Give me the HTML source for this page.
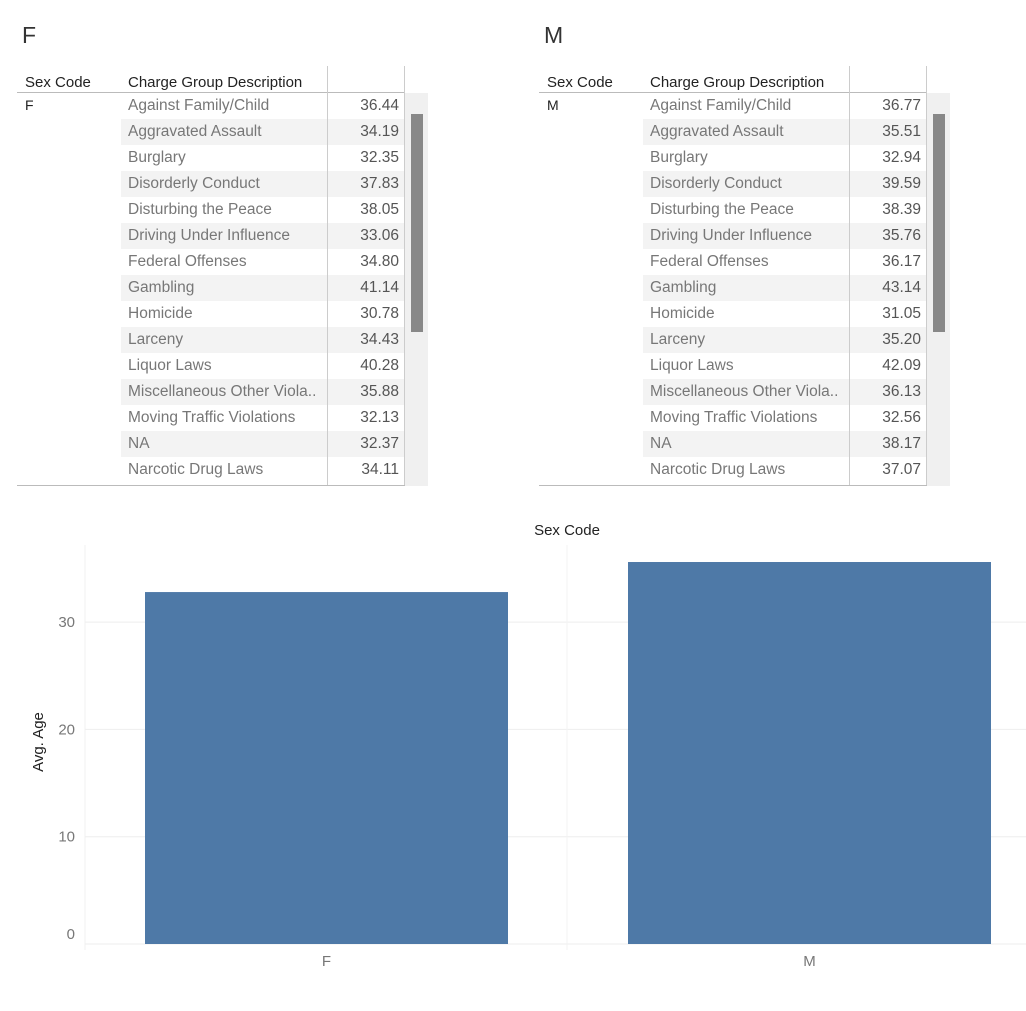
<!DOCTYPE html>
<html><head><meta charset="utf-8"><style>
body{margin:0;width:1026px;height:1011px;background:#fff;font-family:"Liberation Sans",sans-serif;position:relative;overflow:hidden}
.t{position:absolute;font-size:23px;color:#333}
.tbl{position:absolute;top:66px;width:412px;height:420px}
.hdr{position:absolute;top:8px;font-size:15px;color:#222}
.row{position:absolute;height:26px;font-size:15.5px;color:#777;line-height:26px}
.val{position:absolute;text-align:right;width:70px;left:312px;color:#555}
.stripe{position:absolute;left:104px;width:284px;height:26px;background:#f3f3f3}
</style></head><body>
<div class="t" style="left:22px;top:22px">F</div>
<div class="t" style="left:544px;top:22px">M</div>
<div id="tF" class="tbl" style="left:17px"></div>
<div id="tM" class="tbl" style="left:539px"></div>
<svg id="chart" width="1026" height="1011" style="position:absolute;left:0;top:0;pointer-events:none"></svg>
<script>
const charges=["Against Family/Child","Aggravated Assault","Burglary","Disorderly Conduct","Disturbing the Peace","Driving Under Influence","Federal Offenses","Gambling","Homicide","Larceny","Liquor Laws","Miscellaneous Other Viola..","Moving Traffic Violations","NA","Narcotic Drug Laws"];
const valsF=[36.44,34.19,32.35,37.83,38.05,33.06,34.80,41.14,30.78,34.43,40.28,35.88,32.13,32.37,34.11];
const valsM=[36.77,35.51,32.94,39.59,38.39,35.76,36.17,43.14,31.05,35.20,42.09,36.13,32.56,38.17,37.07];
const sexCats=["F","M"];
const avgAge=[32.8,35.6];
const yTicks=[0,10,20,30];
function buildTable(id,code,vals){
  const t=document.getElementById(id);
  let h='<div class="hdr" style="left:8px">Sex Code</div>'+
  '<div class="hdr" style="left:111px">Charge Group Description</div>'+
  '<div style="position:absolute;left:0;top:26px;width:388px;border-top:1px solid #bbb"></div>'+
  '<div style="position:absolute;left:388px;top:27px;width:23px;height:393px;background:#f0f0f0"></div>'+
  '<div style="position:absolute;left:394px;top:48px;width:12px;height:218px;background:#888"></div>'+
  '<div class="row" style="left:8px;top:26px;color:#222;font-size:14px">'+code+'</div>';
  vals.forEach((v,i)=>{
    const y=27+i*26;
    if(i%2==1) h+='<div class="stripe" style="top:'+y+'px"></div>';
    h+='<div class="row" style="left:111px;top:'+y+'px">'+charges[i]+'</div>';
    h+='<div class="row val" style="top:'+y+'px">'+v.toFixed(2)+'</div>';
  });
  h+='<div style="position:absolute;left:310px;top:0;height:420px;border-left:1px solid #ccc"></div>'+
  '<div style="position:absolute;left:387px;top:0;height:420px;border-left:1px solid #ccc"></div>'+
  '<div style="position:absolute;left:0;top:419px;width:388px;border-top:1px solid #bbb"></div>';
  t.innerHTML=h;
}
buildTable('tF','F',valsF);buildTable('tM','M',valsM);
const svg=document.getElementById('chart');const NS='http://www.w3.org/2000/svg';
const y0=944,pxPer=10.73;
const yS=v=>y0-v*pxPer;
const bandL=85,bandW=483,barW=363,barOff=60;
function el(tag,attrs,text){const e=document.createElementNS(NS,tag);for(const k in attrs)e.setAttribute(k,attrs[k]);if(text!=null)e.textContent=text;svg.appendChild(e);return e;}
yTicks.forEach(t=>{
  if(t>0){const g=el('line',{x1:85,x2:1026,y1:yS(t),y2:yS(t),stroke:'#eee'});}
  const l=el('text',{x:75,y:yS(t)+5-(t===0?10:0),'text-anchor':'end','font-size':15,fill:'#777','font-family':'Liberation Sans'},t);
  
  
});
el('line',{x1:85,x2:85,y1:545,y2:950,stroke:'#f0f0f0'});
el('line',{x1:567,x2:567,y1:545,y2:950,stroke:'#f3f3f3'});
el('line',{x1:85,x2:1026,y1:944,y2:944,stroke:'#eee'});
sexCats.forEach((c,i)=>{
  const x=bandL+i*bandW+barOff;
  const b=el('rect',{x:x,y:yS(avgAge[i]),width:barW,height:y0-yS(avgAge[i]),fill:'#4e79a7'});
  
  
  const l=el('text',{x:x+barW/2,y:966,'text-anchor':'middle','font-size':15,fill:'#777','font-family':'Liberation Sans'},c);
  
  
});
const xt=el('text',{x:567,y:535,'text-anchor':'middle','font-size':15,fill:'#222','font-family':'Liberation Sans'},'Sex Code');


const yt=el('text',{x:0,y:0,transform:'translate(43,742) rotate(-90)','text-anchor':'middle','font-size':15,fill:'#222','font-family':'Liberation Sans'},'Avg. Age');


</script>
</body></html>
